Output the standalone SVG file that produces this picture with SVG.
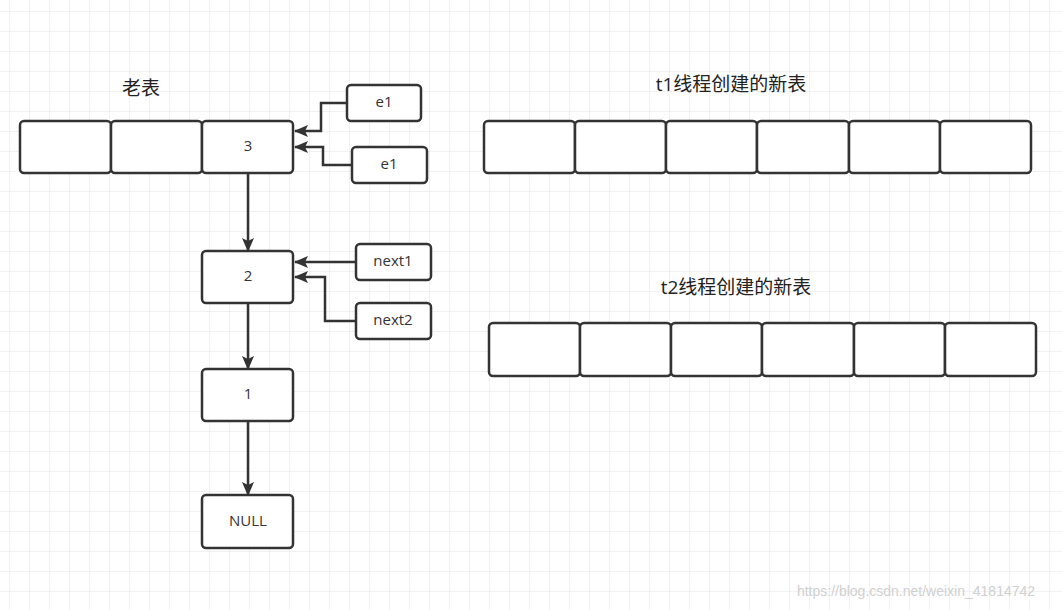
<svg xmlns="http://www.w3.org/2000/svg" width="1062" height="610" viewBox="0 0 1062 610">
<defs>
<pattern id="g" width="20" height="20" patternUnits="userSpaceOnUse" x="10" y="12"><path d="M20 0V20M0 20H20" fill="none" stroke="#e3e3e3" stroke-width="1"/></pattern>
<marker id="a" markerWidth="14" markerHeight="12" refX="13" refY="6" orient="auto" markerUnits="userSpaceOnUse"><path d="M0 0L14 6L0 12L3 6Z" fill="#333"/></marker>
<style>
.b{fill:#fff;stroke:#333;stroke-width:2.5}
.t{font-family:"Open Sans","Noto Sans CJK SC",sans-serif;font-size:15px;fill:#333;text-anchor:middle;dominant-baseline:middle}
.h{font-family:"Open Sans","Noto Sans CJK SC",sans-serif;font-size:19px;fill:#222;text-anchor:middle;dominant-baseline:middle}
.c{fill:none;stroke:#333;stroke-width:2.5;marker-end:url(#a)}
</style>
</defs>
<rect width="1062" height="610" fill="#fff"/>
<rect width="1062" height="610" fill="url(#g)"/>
<text class="h" x="141" y="90">老表</text>
<text class="h" x="731" y="86">t1线程创建的新表</text>
<text class="h" x="736" y="289">t2线程创建的新表</text>
<g id="old"><rect class="b" x="20" y="121" width="91" height="52" rx="4"/><rect class="b" x="111" y="121" width="91" height="52" rx="4"/><rect class="b" x="202" y="121" width="91" height="52" rx="4"/><text class="t" x="248" y="147">3</text></g>
<g id="n2"><rect class="b" x="202" y="251" width="91" height="52" rx="4"/><text class="t" x="248" y="277">2</text></g>
<g id="n1"><rect class="b" x="202" y="369" width="91" height="52" rx="4"/><text class="t" x="248" y="395">1</text></g>
<g id="null"><rect class="b" x="202" y="495" width="91" height="53" rx="4"/><text class="t" x="248" y="522">NULL</text></g>
<g id="e1a"><rect class="b" x="347" y="85" width="74" height="36" rx="4"/><text class="t" x="384" y="103">e1</text></g>
<g id="e1b"><rect class="b" x="352" y="147" width="75" height="36" rx="4"/><text class="t" x="389" y="165">e1</text></g>
<g id="next1"><rect class="b" x="356" y="244" width="75" height="36" rx="4"/><text class="t" x="393" y="262">next1</text></g>
<g id="next2"><rect class="b" x="356" y="303" width="75" height="36" rx="4"/><text class="t" x="393" y="321">next2</text></g>
<g id="t1"><rect class="b" x="484" y="121" width="91" height="52" rx="4"/><rect class="b" x="575" y="121" width="91" height="52" rx="4"/><rect class="b" x="666" y="121" width="91" height="52" rx="4"/><rect class="b" x="757" y="121" width="92" height="52" rx="4"/><rect class="b" x="849" y="121" width="91" height="52" rx="4"/><rect class="b" x="940" y="121" width="91" height="52" rx="4"/></g>
<g id="t2"><rect class="b" x="489" y="323" width="91" height="53" rx="4"/><rect class="b" x="580" y="323" width="91" height="53" rx="4"/><rect class="b" x="671" y="323" width="91" height="53" rx="4"/><rect class="b" x="762" y="323" width="92" height="53" rx="4"/><rect class="b" x="854" y="323" width="91" height="53" rx="4"/><rect class="b" x="945" y="323" width="91" height="53" rx="4"/></g>
<g id="connectors">
<path class="c" d="M248 173V251"/>
<path class="c" d="M248 303V369"/>
<path class="c" d="M248 421V495"/>
<path class="c" d="M347 103H321V131H295"/>
<path class="c" d="M352 165H323V147H295"/>
<path class="c" d="M356 262H295"/>
<path class="c" d="M356 321H325V277H295"/>
</g>
<text x="916" y="592" font-family="Liberation Sans,sans-serif" font-size="14" fill="#d0d0d0" text-anchor="middle" dominant-baseline="middle">https://blog.csdn.net/weixin_41814742</text>
</svg>
